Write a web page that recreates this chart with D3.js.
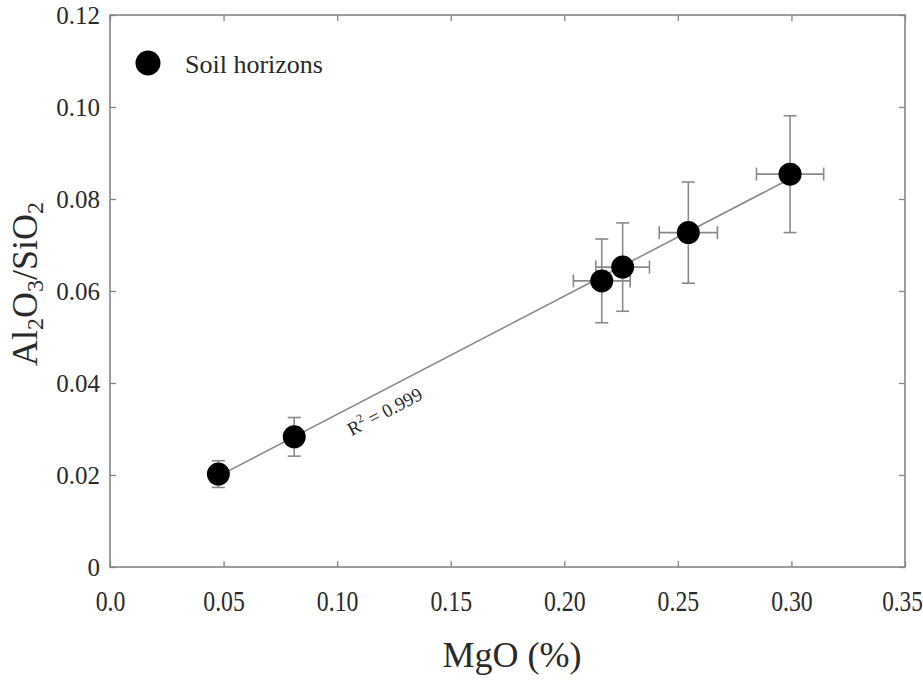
<!DOCTYPE html>
<html><head><meta charset="utf-8">
<script src="https://cdn.jsdelivr.net/npm/d3@7"></script>
<style>body{margin:0;background:#fff}svg{display:block}</style>
</head><body>
<svg id="c" width="923" height="684"></svg>
<script>
const mgo      = [0.0477, 0.0811, 0.2165, 0.2257, 0.2546, 0.2994];
const ratio    = [0.0202, 0.0283, 0.0622, 0.0652, 0.0727, 0.0854];
const mgoErr   = [0.001, 0.001, 0.0125, 0.0118, 0.0128, 0.0148];
const ratioErr = [0.0029, 0.0042, 0.0091, 0.0096, 0.0110, 0.0127];
const xTicks = [0, 0.05, 0.10, 0.15, 0.20, 0.25, 0.30, 0.35];
const xTickLabels = ["0.0","0.05","0.10","0.15","0.20","0.25","0.30","0.35"];
const yTicks = [0, 0.02, 0.04, 0.06, 0.08, 0.10, 0.12];
const yTickLabels = ["0","0.02","0.04","0.06","0.08","0.10","0.12"];
const seriesName = "Soil horizons";
const r2Label = "0.999";

const L=110, R=905, T=15, B=567;
const svg = d3.select("#c");
const font = "Liberation Serif";
const x = d3.scaleLinear().domain([0,0.35]).range([L,R]);
const y = d3.scaleLinear().domain([0,0.12]).range([B,T]);
const axisCol = "#858585";
const txtCol = "#2a2a2a";

// frame
svg.append("rect").attr("x",L).attr("y",T).attr("width",R-L).attr("height",B-T)
  .attr("fill","none").attr("stroke",axisCol).attr("stroke-width",1.6);

// axes
const xa = svg.append("g").attr("transform",`translate(0,${B})`)
  .call(d3.axisBottom(x).tickValues(xTicks).tickSize(-6).tickPadding(26)
    .tickFormat((d,i)=>xTickLabels[i]));
const xt = svg.append("g").attr("transform",`translate(0,${T})`)
  .call(d3.axisTop(x).tickValues(xTicks).tickSize(-6).tickFormat(""));
const ya = svg.append("g").attr("transform",`translate(${L},0)`)
  .call(d3.axisLeft(y).tickValues(yTicks).tickSize(-6).tickPadding(10)
    .tickFormat((d,i)=>yTickLabels[i]));
const yr = svg.append("g").attr("transform",`translate(${R},0)`)
  .call(d3.axisRight(y).tickValues(yTicks).tickSize(-6).tickFormat(""));
[xa,xt,ya,yr].forEach(g=>{
  g.attr("font-family",font);
  g.select(".domain").remove();
  g.selectAll(".tick line").attr("stroke",axisCol).attr("stroke-width",1.3);
  g.selectAll(".tick text").attr("fill",txtCol);
});
ya.attr("font-size",25);
xa.attr("font-size",29);
xa.selectAll(".tick text")
  .attr("transform",(d,i)=> i===xTicks.length-1 ? "translate(-3,0) scale(0.8,1)" : "scale(0.82,1)")
  .attr("dy","0.62em");
ya.selectAll(".tick text").attr("dy","0.33em");

// axis titles
svg.append("text").attr("x",512).attr("y",667).attr("text-anchor","middle")
  .attr("font-family",font).attr("font-size",36).attr("fill",txtCol).text("MgO (%)");
const yt = svg.append("text").attr("transform","translate(37,284) rotate(-90)")
  .attr("text-anchor","middle").attr("font-family",font).attr("font-size",36).attr("fill",txtCol);
yt.append("tspan").text("Al");
yt.append("tspan").attr("font-size",24).attr("dy",6).text("2");
yt.append("tspan").attr("dy",-6).text("O");
yt.append("tspan").attr("font-size",24).attr("dy",6).text("3");
yt.append("tspan").attr("dy",-6).text("/SiO");
yt.append("tspan").attr("font-size",24).attr("dy",6).text("2");

// regression line (least squares from data)
const mx=d3.mean(mgo), my=d3.mean(ratio);
const slope=d3.sum(mgo.map((v,i)=>(v-mx)*(ratio[i]-my)))/d3.sum(mgo.map(v=>(v-mx)**2));
const icpt=my-slope*mx;
const x0=d3.min(mgo), x1=d3.max(mgo);
svg.append("line").attr("x1",x(x0)).attr("y1",y(icpt+slope*x0))
  .attr("x2",x(x1)).attr("y2",y(icpt+slope*x1))
  .attr("stroke","#8a8a8a").attr("stroke-width",1.6);

// R² label along line, below it
const lx=0.117, ly=icpt+slope*lx;
const ang=Math.atan2(y(icpt+slope*0.2)-y(icpt+slope*0.1), x(0.2)-x(0.1))*180/Math.PI;
const rt=svg.append("text").attr("transform",`translate(${x(lx)},${y(ly)}) rotate(${ang})`)
  .attr("y",26).attr("text-anchor","middle").attr("font-family",font).attr("font-size",19).attr("fill",txtCol);
rt.append("tspan").text("R");
rt.append("tspan").attr("font-size",12).attr("dy",-8).text("2");
rt.append("tspan").attr("dy",8).text(" = "+r2Label);

// error bars
const eb = svg.append("g").attr("stroke","#8a8a8a").attr("stroke-width",1.6);
const cap=6.5;
mgo.forEach((mv,i)=>{
  const cx=x(mv), cy=y(ratio[i]);
  const yt1=y(ratio[i]+ratioErr[i]), yb1=y(ratio[i]-ratioErr[i]);
  eb.append("line").attr("x1",cx).attr("x2",cx).attr("y1",yt1).attr("y2",yb1);
  eb.append("line").attr("x1",cx-cap).attr("x2",cx+cap).attr("y1",yt1).attr("y2",yt1);
  eb.append("line").attr("x1",cx-cap).attr("x2",cx+cap).attr("y1",yb1).attr("y2",yb1);
  const xl=x(mv-mgoErr[i]), xr=x(mv+mgoErr[i]);
  eb.append("line").attr("x1",xl).attr("x2",xr).attr("y1",cy).attr("y2",cy);
  eb.append("line").attr("x1",xl).attr("x2",xl).attr("y1",cy-cap).attr("y2",cy+cap);
  eb.append("line").attr("x1",xr).attr("x2",xr).attr("y1",cy-cap).attr("y2",cy+cap);
});

// points
svg.append("g").selectAll("circle").data(mgo).join("circle")
  .attr("cx",d=>x(d)).attr("cy",(d,i)=>y(ratio[i])).attr("r",11.5).attr("fill","#000");

// legend
svg.append("circle").attr("cx",148).attr("cy",63).attr("r",12.5).attr("fill","#000");
svg.append("text").attr("x",185).attr("y",73).attr("font-family",font).attr("font-size",26)
  .attr("fill",txtCol).text(seriesName);
</script>
</body></html>
